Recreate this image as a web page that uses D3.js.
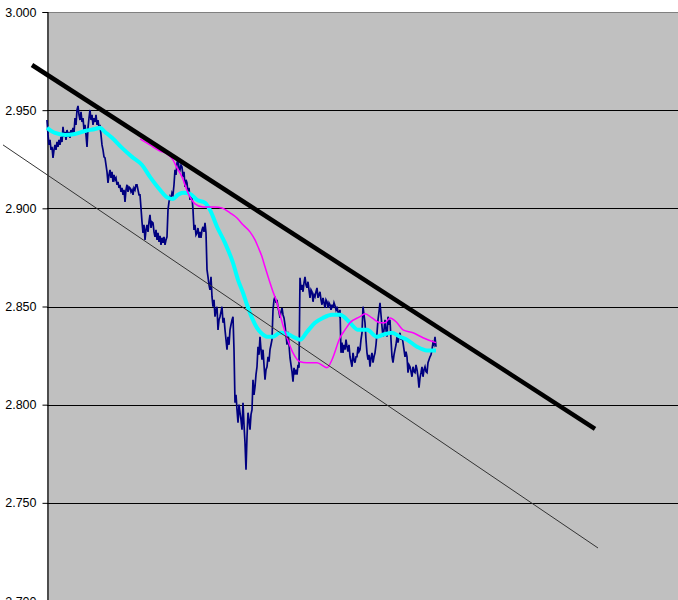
<!DOCTYPE html>
<html>
<head>
<meta charset="UTF-8">
<title>Chart</title>
<style>
html, body {
    margin: 0;
    padding: 0;
    background-color: #FFFFFF;
}
.tick-label {
    font-family: "Liberation Sans", Arial, sans-serif;
    font-size: 12.5px;
    fill: #000;
}
</style>
</head>
<body>
<div class="chart"></div>
<script src="https://cdn.jsdelivr.net/npm/d3@7/dist/d3.min.js"></script>
<script>
// price series, one value per step starting at step 0
let priceValues = [
    2.9450, 2.9374, 2.9323, 2.9349, 2.9298, 2.9313, 2.9257, 2.9298, 2.9323, 2.9298,
    2.9338, 2.9313, 2.9349, 2.9323, 2.9364, 2.9338, 2.9415, 2.9364, 2.9389, 2.9349,
    2.9399, 2.9364, 2.9389, 2.9359, 2.9399, 2.9374, 2.9410, 2.9384, 2.9460, 2.9425,
    2.9501, 2.9522, 2.9476, 2.9450, 2.9491, 2.9440, 2.9460, 2.9399, 2.9425, 2.9374,
    2.9313, 2.9410, 2.9460, 2.9501, 2.9450, 2.9476, 2.9425, 2.9460, 2.9440, 2.9476,
    2.9425, 2.9450, 2.9410, 2.9425, 2.9374, 2.9323, 2.9298, 2.9262, 2.9257, 2.9221,
    2.9186, 2.9130, 2.9170, 2.9196, 2.9155, 2.9186, 2.9135, 2.9170, 2.9145, 2.9155,
    2.9120, 2.9135, 2.9104, 2.9120, 2.9084, 2.9104, 2.9069, 2.9094, 2.9033, 2.9094,
    2.9120, 2.9084, 2.9109, 2.9104, 2.9084, 2.9094, 2.9069, 2.9104, 2.9094, 2.9120,
    2.9120, 2.9094, 2.9069, 2.9069, 2.9002, 2.8931, 2.8875, 2.8916, 2.8839, 2.8890,
    2.8916, 2.8880, 2.8931, 2.8967, 2.8900, 2.8931, 2.8926, 2.8880, 2.8855, 2.8890,
    2.8839, 2.8875, 2.8829, 2.8860, 2.8814, 2.8850, 2.8824, 2.8855, 2.8814, 2.8839,
    2.8855, 2.8992, 2.9033, 2.9058, 2.9043, 2.9079, 2.9069, 2.9120, 2.9196, 2.9170,
    2.9231, 2.9247, 2.9206, 2.9196, 2.9221, 2.9211, 2.9160, 2.9186, 2.9109, 2.9145,
    2.9130, 2.9079, 2.9104, 2.9043, 2.9069, 2.9058, 2.8992, 2.8890, 2.8916, 2.8865,
    2.8875, 2.8900, 2.8850, 2.8880, 2.8850, 2.8890, 2.8906, 2.8880, 2.8926, 2.8875,
    2.8688, 2.8651, 2.8610, 2.8585, 2.8651, 2.8550, 2.8499, 2.8534, 2.8448, 2.8483,
    2.8499, 2.8381, 2.8432, 2.8448, 2.8473, 2.8499, 2.8417, 2.8442, 2.8381, 2.8331,
    2.8280, 2.8346, 2.8305, 2.8381, 2.8407, 2.8432, 2.8448, 2.8280, 2.8010, 2.8050,
    2.7974, 2.7908, 2.8000, 2.7959, 2.7923, 2.7873, 2.8010, 2.7898, 2.7806, 2.7669,
    2.7837, 2.7959, 2.7923, 2.7873, 2.7949, 2.7974, 2.8127, 2.8050, 2.8091, 2.8153,
    2.8193, 2.8295, 2.8254, 2.8346, 2.8280, 2.8229, 2.8280, 2.8203, 2.8127, 2.8178,
    2.8193, 2.8244, 2.8219, 2.8280, 2.8305, 2.8331, 2.8483, 2.8534, 2.8550, 2.8519,
    2.8534, 2.8493, 2.8473, 2.8442, 2.8473, 2.8493, 2.8458, 2.8442, 2.8407, 2.8356,
    2.8305, 2.8371, 2.8305, 2.8239, 2.8203, 2.8168, 2.8117, 2.8188, 2.8153, 2.8178,
    2.8153, 2.8203, 2.8188, 2.8646, 2.8585, 2.8610, 2.8575, 2.8621, 2.8651, 2.8610,
    2.8595, 2.8626, 2.8585, 2.8544, 2.8585, 2.8575, 2.8524, 2.8560, 2.8550, 2.8575,
    2.8595, 2.8544, 2.8560, 2.8575, 2.8534, 2.8509, 2.8544, 2.8519, 2.8493, 2.8534,
    2.8524, 2.8493, 2.8519, 2.8509, 2.8483, 2.8509, 2.8493, 2.8519, 2.8504, 2.8483,
    2.8499, 2.8473, 2.8458, 2.8483, 2.8264, 2.8316, 2.8264, 2.8305, 2.8280, 2.8331,
    2.8295, 2.8270, 2.8305, 2.8244, 2.8219, 2.8193, 2.8264, 2.8229, 2.8214, 2.8244,
    2.8244, 2.8295, 2.8270, 2.8280, 2.8331, 2.8366, 2.8499, 2.8458, 2.8417, 2.8331,
    2.8264, 2.8229, 2.8254, 2.8193, 2.8239, 2.8264, 2.8214, 2.8244, 2.8264, 2.8305,
    2.8366, 2.8432, 2.8473, 2.8519, 2.8458, 2.8397, 2.8346, 2.8381, 2.8432, 2.8381,
    2.8346, 2.8448, 2.8407, 2.8432, 2.8331, 2.8244, 2.8214, 2.8254, 2.8280, 2.8305,
    2.8346, 2.8316, 2.8346, 2.8366, 2.8331, 2.8346, 2.8316, 2.8280, 2.8244, 2.8270,
    2.8244, 2.8163, 2.8203, 2.8193, 2.8168, 2.8142, 2.8193, 2.8168, 2.8163, 2.8203,
    2.8178, 2.8142, 2.8086, 2.8137, 2.8163, 2.8193, 2.8142, 2.8178, 2.8193, 2.8168,
    2.8163, 2.8214, 2.8229, 2.8244, 2.8254, 2.8280, 2.8316, 2.8305, 2.8346, 2.8295
];

// fast moving average (cyan): [step, value]
let fastAvg = [
    [0, 2.9410], [8, 2.9384], [18, 2.9374], [28, 2.9379], [38, 2.9394], [48, 2.9404],
    [53, 2.9410], [58, 2.9389], [65, 2.9359], [75, 2.9308], [85, 2.9262], [95, 2.9221],
    [103, 2.9160], [113, 2.9094], [121, 2.9053], [126, 2.9048], [131, 2.9069], [136, 2.9079],
    [143, 2.9074], [150, 2.9043], [158, 2.9028], [163, 2.8992], [170, 2.8906], [178, 2.8824],
    [186, 2.8722], [191, 2.8636], [196, 2.8570], [200, 2.8509], [205, 2.8442], [210, 2.8391],
    [215, 2.8361], [220, 2.8346], [226, 2.8346], [233, 2.8366], [240, 2.8361], [246, 2.8346],
    [253, 2.8331], [260, 2.8371], [268, 2.8417], [276, 2.8442], [285, 2.8458], [293, 2.8458],
    [303, 2.8417], [311, 2.8381], [320, 2.8381], [330, 2.8346], [336, 2.8356], [345, 2.8366],
    [353, 2.8346], [360, 2.8331], [370, 2.8295], [380, 2.8276], [389, 2.8276]
];

// slow moving average (magenta): [step, value]
let slowAvg = [
    [93, 2.9354], [103, 2.9323], [113, 2.9292], [120, 2.9277], [126, 2.9247], [130, 2.9206],
    [135, 2.9160], [141, 2.9079], [148, 2.9023], [156, 2.9007], [168, 2.9007], [175, 2.9002],
    [183, 2.8977], [190, 2.8951], [196, 2.8916], [203, 2.8880], [208, 2.8839], [211, 2.8804],
    [215, 2.8753], [218, 2.8702], [223, 2.8621], [226, 2.8575], [230, 2.8519], [233, 2.8458],
    [240, 2.8341], [246, 2.8264], [253, 2.8219], [260, 2.8214], [270, 2.8214], [280, 2.8188],
    [285, 2.8229], [293, 2.8341], [298, 2.8381], [303, 2.8417], [313, 2.8448], [318, 2.8463],
    [325, 2.8442], [333, 2.8417], [338, 2.8417], [343, 2.8442], [350, 2.8417], [356, 2.8381],
    [366, 2.8366], [376, 2.8341], [386, 2.8321], [389, 2.8316]
];

// trend lines: [step, value]
let upperTrend = [[-15, 2.9730], [548, 2.7877]];
let lowerTrend = [[-44, 2.9323], [551, 2.7270]];

let yTicks = [2.700, 2.750, 2.800, 2.850, 2.900, 2.950, 3.000];

let width = 678, height = 600;
let plotLeft = 47, plotTop = 12, plotBottom = 601;

let svg = d3.select('.chart').append('svg')
    .attr('width', width)
    .attr('height', height)
    .style('display', 'block');

let xScale = d3.scaleLinear()
    .domain([0, 631])
    .range([plotLeft, width]);

let yScale = d3.scaleLinear()
    .domain([2.7, 3.0])
    .range([plotBottom, plotTop]);

// plot background
svg.append('rect')
    .attr('x', plotLeft)
    .attr('y', plotTop)
    .attr('width', width - plotLeft)
    .attr('height', height - plotTop)
    .attr('fill', '#C0C0C0');

// gridlines
svg.selectAll('.grid')
    .data(yTicks)
    .enter().append('line')
    .attr('x1', plotLeft)
    .attr('x2', width)
    .attr('y1', (d) => Math.round(yScale(d)) + 0.5)
    .attr('y2', (d) => Math.round(yScale(d)) + 0.5)
    .attr('stroke', (d) => d === 3.0 ? '#808080' : '#000')
    .attr('stroke-width', 1.2);

// y axis
let yAxis = d3.axisLeft(yScale)
    .tickValues(yTicks)
    .tickFormat(d3.format('.3f'))
    .tickSize(5)
    .tickPadding(6);

let axisG = svg.append('g')
    .attr('transform', `translate(${plotLeft + 0.5},0)`)
    .call(yAxis);
axisG.select('.domain').attr('stroke', '#000').attr('stroke-width', 1.2);
axisG.selectAll('.tick line').attr('stroke', '#000');
axisG.selectAll('.tick text')
    .attr('class', 'tick-label')
    .attr('font-family', null)
    .attr('font-size', null);

let plot = svg.append('g');

let priceLine = d3.line()
    .x((d, i) => xScale(i))
    .y((d) => yScale(d));

plot.append('path')
    .attr('d', priceLine(priceValues))
    .attr('fill', 'none')
    .attr('stroke', '#000080')
    .attr('stroke-width', 1.7)
    .attr('stroke-linejoin', 'miter');

let avgLine = d3.line()
    .x((d) => xScale(d[0]))
    .y((d) => yScale(d[1]))
    .curve(d3.curveMonotoneX);

plot.append('path')
    .attr('d', avgLine(fastAvg))
    .attr('fill', 'none')
    .attr('stroke', '#00FFFF')
    .attr('stroke-width', 4);

plot.append('path')
    .attr('d', avgLine(slowAvg))
    .attr('fill', 'none')
    .attr('stroke', '#FF00FF')
    .attr('stroke-width', 1.5);

let straight = d3.line()
    .x((d) => xScale(d[0]))
    .y((d) => yScale(d[1]));

plot.append('path')
    .attr('d', straight(lowerTrend))
    .attr('fill', 'none')
    .attr('stroke', '#333')
    .attr('stroke-width', 1);

plot.append('path')
    .attr('d', straight(upperTrend))
    .attr('fill', 'none')
    .attr('stroke', '#000')
    .attr('stroke-width', 4.5);
</script>
</body>
</html>
